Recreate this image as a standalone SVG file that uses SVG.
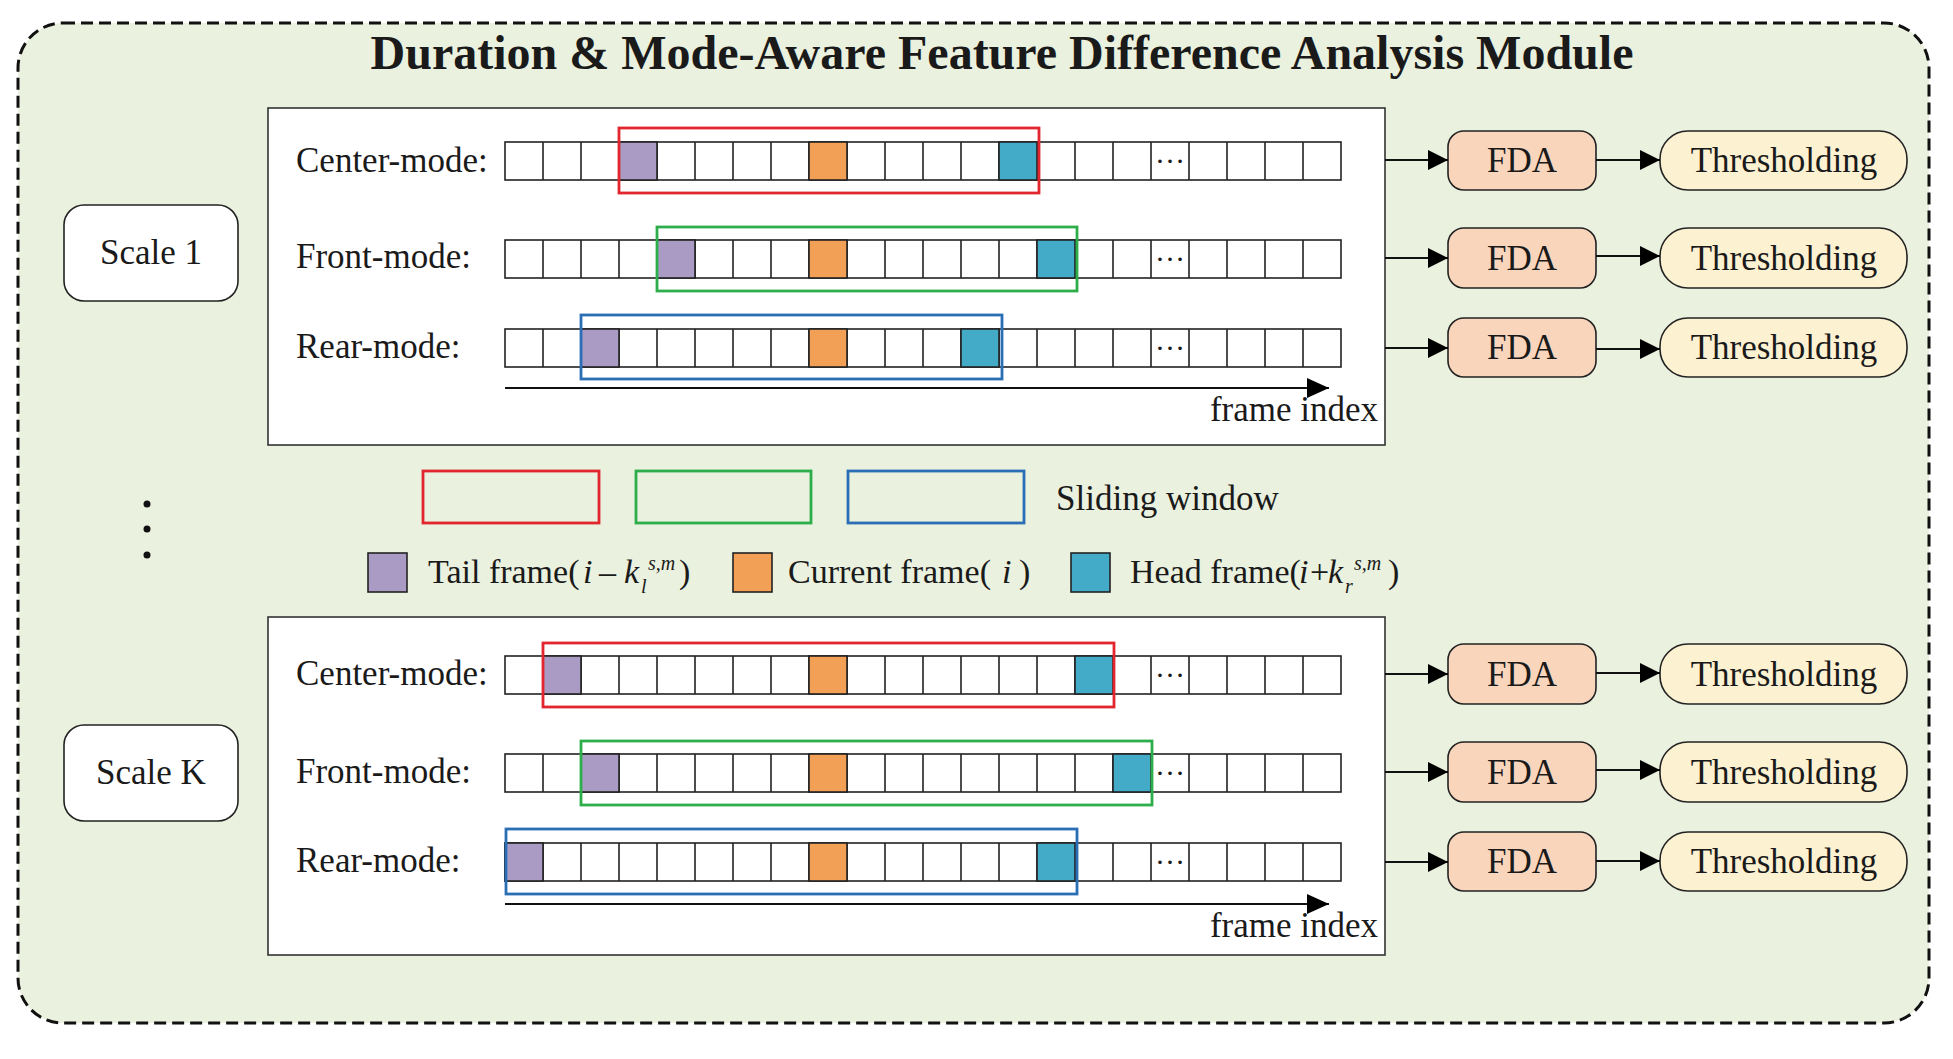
<svg xmlns="http://www.w3.org/2000/svg" xmlns:xlink="http://www.w3.org/1999/xlink" width="1953" height="1059" viewBox="0 0 1953 1059">
<style>
text{font-family:"Liberation Serif","Times New Roman",serif;fill:#1a1a1a}
.lbl{font-size:35px}
.leg{font-size:34px}
.it{font-style:italic}
.sm{font-size:20px;font-style:italic}
.title{font-size:48px;font-weight:bold}
.panel{fill:#fff;stroke:#333;stroke-width:1.6}
.cellbg{fill:#fff;stroke:#222;stroke-width:1.6}
.cl{fill:none;stroke:#222;stroke-width:1.6}
.pu{fill:#A99BC3;stroke:#222;stroke-width:1.6}
.or{fill:#F3A057;stroke:#222;stroke-width:1.6}
.te{fill:#43ABC8;stroke:#222;stroke-width:1.6}
.wr{fill:none;stroke:#E1272D;stroke-width:2.8}
.wg{fill:none;stroke:#2DAE4B;stroke-width:2.8}
.wb{fill:none;stroke:#2A6FB6;stroke-width:2.8}
.scale{fill:#fff;stroke:#222;stroke-width:1.6}
.fda{fill:#F9D5BC;stroke:#222;stroke-width:1.6}
.thr{fill:#FCF1D1;stroke:#222;stroke-width:1.6}
.conn{stroke:#111;stroke-width:1.8;fill:none}
.dots{font-size:30px}
</style>
<defs>
<marker id="ah" markerWidth="20" markerHeight="20" refX="20" refY="10" orient="auto" markerUnits="userSpaceOnUse"><path d="M0 0L20 10L0 20z" fill="#000"/></marker>
<marker id="ax" markerWidth="22" markerHeight="20" refX="22" refY="10" orient="auto" markerUnits="userSpaceOnUse"><path d="M0 0L22 10L0 20z" fill="#000"/></marker>
<g id="row">
<rect class="cellbg" x="0" y="0" width="836" height="38"/>
<path class="cl" d="M38 0v38M76 0v38M114 0v38M152 0v38M190 0v38M228 0v38M266 0v38M304 0v38M342 0v38M380 0v38M418 0v38M456 0v38M494 0v38M532 0v38M570 0v38M608 0v38M646 0v38M684 0v38M722 0v38M760 0v38M798 0v38"/>
</g>
</defs>

<g id="module">
<rect x="18" y="23" width="1911" height="1000" rx="45" fill="#EAF1DE" stroke="#111" stroke-width="3" stroke-dasharray="12 6"/>
<text class="title" x="1002" y="69" text-anchor="middle">Duration &amp; Mode-Aware Feature Difference Analysis Module</text>
</g>

<g id="scale1">
<rect class="scale" x="64" y="205" width="174" height="96" rx="20"/>
<text class="lbl" x="151" y="264" text-anchor="middle">Scale 1</text>
</g>

<g id="scaleK">
<rect class="scale" x="64" y="725" width="174" height="96" rx="20"/>
<text class="lbl" x="151" y="784" text-anchor="middle">Scale K</text>
</g>

<g id="vdots">
<circle cx="147" cy="504" r="3.5" fill="#111"/>
<circle cx="147" cy="529" r="3.5" fill="#111"/>
<circle cx="147" cy="555" r="3.5" fill="#111"/>
</g>

<g id="panel1">
<rect class="panel" x="268" y="108" width="1117" height="337"/>
<text class="lbl" x="296" y="172">Center-mode:</text>
<text class="lbl" x="296" y="268">Front-mode:</text>
<text class="lbl" x="296" y="358">Rear-mode:</text>
<use xlink:href="#row" href="#row" x="505" y="142"/>
<use xlink:href="#row" href="#row" x="505" y="240"/>
<use xlink:href="#row" href="#row" x="505" y="329"/>
<rect class="pu" x="619" y="142" width="38" height="38"/>
<rect class="or" x="809" y="142" width="38" height="38"/>
<rect class="te" x="999" y="142" width="38" height="38"/>
<rect class="pu" x="657" y="240" width="38" height="38"/>
<rect class="or" x="809" y="240" width="38" height="38"/>
<rect class="te" x="1037" y="240" width="38" height="38"/>
<rect class="pu" x="581" y="329" width="38" height="38"/>
<rect class="or" x="809" y="329" width="38" height="38"/>
<rect class="te" x="961" y="329" width="38" height="38"/>
<text class="dots" x="1170" y="163" text-anchor="middle">…</text>
<text class="dots" x="1170" y="261" text-anchor="middle">…</text>
<text class="dots" x="1170" y="350" text-anchor="middle">…</text>
<rect class="wr" x="619" y="128" width="420" height="65"/>
<rect class="wg" x="657" y="227" width="420" height="64"/>
<rect class="wb" x="581" y="315" width="421" height="64"/>
<line class="conn" x1="505" y1="388" x2="1329" y2="388" marker-end="url(#ax)"/>
<text class="lbl" x="1378" y="421" text-anchor="end">frame index</text>
</g>

<g id="panelK">
<rect class="panel" x="268" y="617" width="1117" height="338"/>
<text class="lbl" x="296" y="685">Center-mode:</text>
<text class="lbl" x="296" y="783">Front-mode:</text>
<text class="lbl" x="296" y="872">Rear-mode:</text>
<use xlink:href="#row" href="#row" x="505" y="656"/>
<use xlink:href="#row" href="#row" x="505" y="754"/>
<use xlink:href="#row" href="#row" x="505" y="843"/>
<rect class="pu" x="543" y="656" width="38" height="38"/>
<rect class="or" x="809" y="656" width="38" height="38"/>
<rect class="te" x="1075" y="656" width="38" height="38"/>
<rect class="pu" x="581" y="754" width="38" height="38"/>
<rect class="or" x="809" y="754" width="38" height="38"/>
<rect class="te" x="1113" y="754" width="38" height="38"/>
<rect class="pu" x="505" y="843" width="38" height="38"/>
<rect class="or" x="809" y="843" width="38" height="38"/>
<rect class="te" x="1037" y="843" width="38" height="38"/>
<text class="dots" x="1170" y="677" text-anchor="middle">…</text>
<text class="dots" x="1170" y="775" text-anchor="middle">…</text>
<text class="dots" x="1170" y="864" text-anchor="middle">…</text>
<rect class="wr" x="543" y="643" width="571" height="64"/>
<rect class="wg" x="581" y="741" width="571" height="64"/>
<rect class="wb" x="506" y="829" width="571" height="65"/>
<line class="conn" x1="505" y1="904" x2="1329" y2="904" marker-end="url(#ax)"/>
<text class="lbl" x="1378" y="937" text-anchor="end">frame index</text>
</g>

<g id="legend">
<rect class="wr" x="423" y="471" width="176" height="52"/>
<rect class="wg" x="636" y="471" width="175" height="52"/>
<rect class="wb" x="848" y="471" width="176" height="52"/>
<text class="lbl" x="1056" y="510">Sliding window</text>
<rect class="pu" x="368" y="553" width="39" height="39"/>
<text class="leg" x="428" y="583">Tail frame(<tspan class="it" x="583">i</tspan><tspan x="599">–</tspan><tspan class="it" x="624">k</tspan><tspan class="sm" x="641" y="593">l</tspan><tspan class="sm" x="648" y="570">s,m</tspan><tspan x="679" y="583">)</tspan></text>
<rect class="or" x="733" y="553" width="39" height="39"/>
<text class="leg" x="788" y="583">Current frame(<tspan class="it" x="1002">i</tspan><tspan x="1019">)</tspan></text>
<rect class="te" x="1071" y="553" width="39" height="39"/>
<text class="leg" x="1130" y="583">Head frame(<tspan class="it" x="1299">i</tspan><tspan x="1310">+</tspan><tspan class="it" x="1328">k</tspan><tspan class="sm" x="1345" y="593">r</tspan><tspan class="sm" x="1354" y="570">s,m</tspan><tspan x="1388" y="583">)</tspan></text>
</g>

<g id="fda1"><rect class="fda" x="1448" y="131" width="148" height="59" rx="16"/><text class="lbl" x="1522" y="172" text-anchor="middle">FDA</text></g>
<g id="fda2"><rect class="fda" x="1448" y="228" width="148" height="60" rx="16"/><text class="lbl" x="1522" y="270" text-anchor="middle">FDA</text></g>
<g id="fda3"><rect class="fda" x="1448" y="318" width="148" height="59" rx="16"/><text class="lbl" x="1522" y="359" text-anchor="middle">FDA</text></g>
<g id="fda4"><rect class="fda" x="1448" y="644" width="148" height="60" rx="16"/><text class="lbl" x="1522" y="686" text-anchor="middle">FDA</text></g>
<g id="fda5"><rect class="fda" x="1448" y="742" width="148" height="60" rx="16"/><text class="lbl" x="1522" y="784" text-anchor="middle">FDA</text></g>
<g id="fda6"><rect class="fda" x="1448" y="832" width="148" height="59" rx="16"/><text class="lbl" x="1522" y="873" text-anchor="middle">FDA</text></g>

<g id="thr1"><rect class="thr" x="1660" y="131" width="247" height="59" rx="28"/><text class="lbl" x="1784" y="172" text-anchor="middle">Thresholding</text></g>
<g id="thr2"><rect class="thr" x="1660" y="228" width="247" height="60" rx="28"/><text class="lbl" x="1784" y="270" text-anchor="middle">Thresholding</text></g>
<g id="thr3"><rect class="thr" x="1660" y="318" width="247" height="59" rx="28"/><text class="lbl" x="1784" y="359" text-anchor="middle">Thresholding</text></g>
<g id="thr4"><rect class="thr" x="1660" y="644" width="247" height="60" rx="28"/><text class="lbl" x="1784" y="686" text-anchor="middle">Thresholding</text></g>
<g id="thr5"><rect class="thr" x="1660" y="742" width="247" height="60" rx="28"/><text class="lbl" x="1784" y="784" text-anchor="middle">Thresholding</text></g>
<g id="thr6"><rect class="thr" x="1660" y="832" width="247" height="59" rx="28"/><text class="lbl" x="1784" y="873" text-anchor="middle">Thresholding</text></g>

<g id="connectors">
<line class="conn" x1="1385" y1="160" x2="1448" y2="160" marker-end="url(#ah)"/>
<line class="conn" x1="1385" y1="258" x2="1448" y2="258" marker-end="url(#ah)"/>
<line class="conn" x1="1385" y1="348" x2="1448" y2="348" marker-end="url(#ah)"/>
<line class="conn" x1="1385" y1="674" x2="1448" y2="674" marker-end="url(#ah)"/>
<line class="conn" x1="1385" y1="772" x2="1448" y2="772" marker-end="url(#ah)"/>
<line class="conn" x1="1385" y1="862" x2="1448" y2="862" marker-end="url(#ah)"/>
<line class="conn" x1="1596" y1="160" x2="1660" y2="160" marker-end="url(#ah)"/>
<line class="conn" x1="1596" y1="256" x2="1660" y2="256" marker-end="url(#ah)"/>
<line class="conn" x1="1596" y1="349" x2="1660" y2="349" marker-end="url(#ah)"/>
<line class="conn" x1="1596" y1="673" x2="1660" y2="673" marker-end="url(#ah)"/>
<line class="conn" x1="1596" y1="770" x2="1660" y2="770" marker-end="url(#ah)"/>
<line class="conn" x1="1596" y1="861" x2="1660" y2="861" marker-end="url(#ah)"/>
</g>
</svg>
